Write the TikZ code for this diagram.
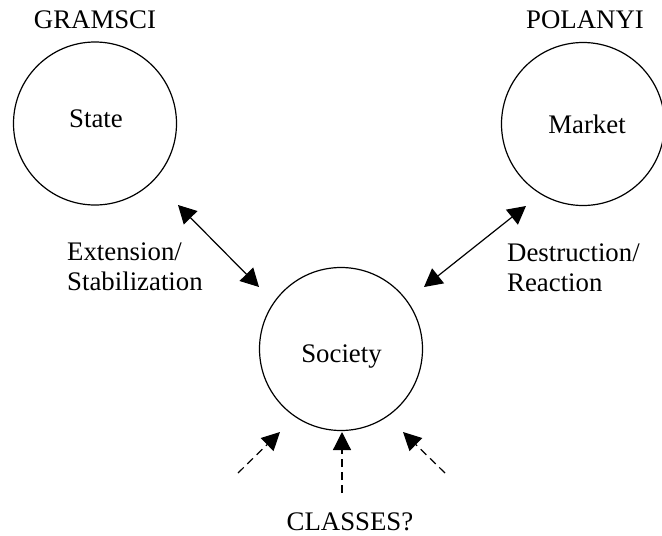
\documentclass[tikz,border=0pt]{standalone}
\usepackage{fontspec}
\setmainfont{Liberation Serif}
\usetikzlibrary{arrows.meta}
\begin{document}
\begin{tikzpicture}[x=1pt,y=-1pt,
  circ/.style={circle,draw,line width=1.2pt,minimum size=163pt,inner sep=0pt},
  lbl/.style={font=\fontsize{26.8}{30.5}\selectfont,inner sep=0pt},
  arr/.style={line width=1.2pt,-{Triangle[length=18pt,width=19pt]}},
  darr/.style={line width=1.2pt,dash pattern=on 8pt off 5pt,-{Triangle[length=18pt,width=18pt]}},
  dbl/.style={line width=1.2pt,{Triangle[length=18pt,width=19pt]}-{Triangle[length=18pt,width=19pt]}}]
\useasboundingbox (0,0) rectangle (662,536);
% circles
\node[circ] (state) at (95,123.5) {};
\node[circ] (market) at (583,124) {};
\node[circ] (society) at (341,349) {};
% texts
\node[lbl,anchor=base] (gramsci) at (95,28) {GRAMSCI};
\node[lbl,anchor=base] (statetxt) at (96,127) {State};
\node[lbl,anchor=base] (polanyi) at (585,28) {POLANYI};
\node[lbl,anchor=base] (markettxt) at (587,133) {Market};
\node[lbl,anchor=base] (societytxt) at (341.5,362) {Society};
\node[lbl,anchor=base west] (ext) at (67,260) {Extension/};
\node[lbl,anchor=base west] (stab) at (67,290.5) {Stabilization};
\node[lbl,anchor=base west] (destr) at (507,261) {Destruction/};
\node[lbl,anchor=base west] (react) at (507,291.5) {Reaction};
\node[lbl,anchor=base] (classes) at (350,530) {CLASSES?};
% arrow end points
\coordinate (sa) at (178,205);
\coordinate (sb) at (259,287);
\coordinate (ma) at (526,206);
\coordinate (mb) at (424,287);
\coordinate (c1) at (238,473);
\coordinate (c1t) at (280,432);
\coordinate (c2) at (342,493);
\coordinate (c2t) at (342,432);
\coordinate (c3) at (445,473);
\coordinate (c3t) at (403,432);
% arrows
\draw[dbl] (sa) -- (sb);
\draw[dbl] (ma) -- (mb);
\draw[darr] (c1) -- (c1t);
\draw[darr] (c2) -- (c2t);
\draw[darr] (c3) -- (c3t);
\end{tikzpicture}
\end{document}
